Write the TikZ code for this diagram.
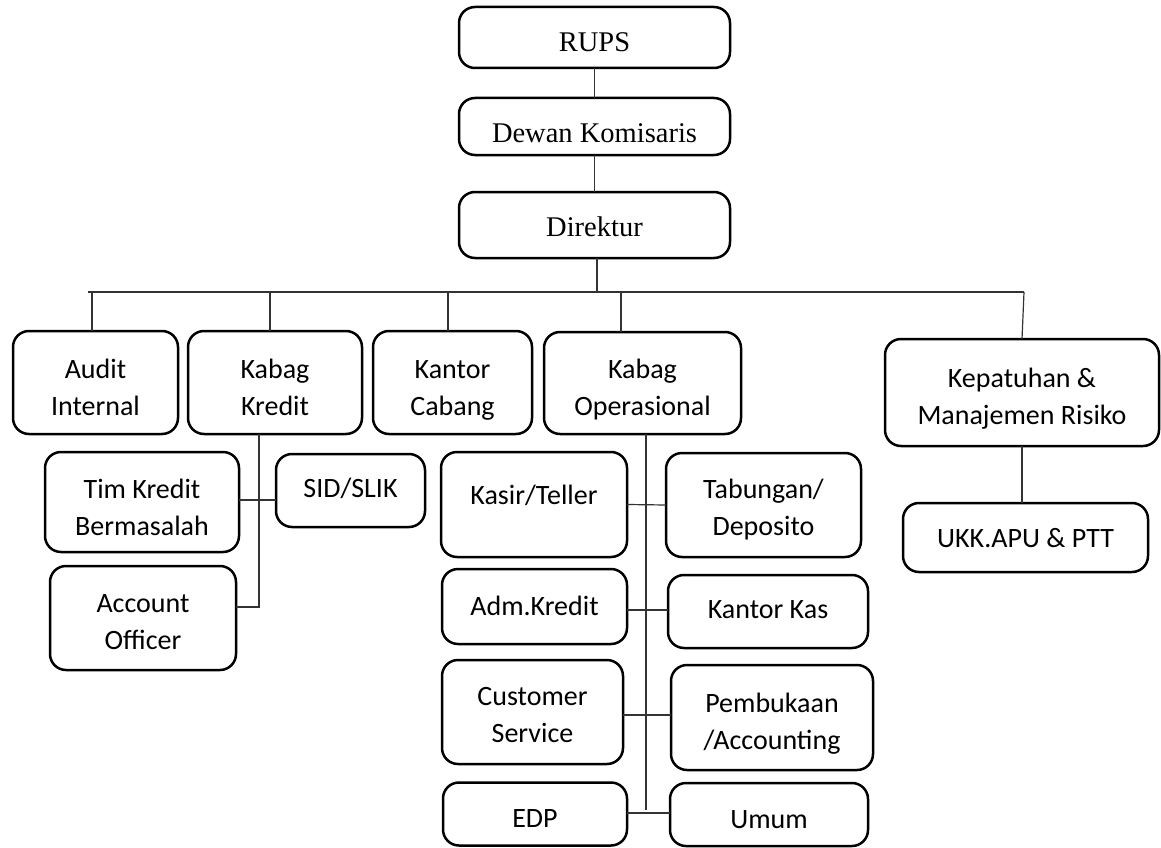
\documentclass[tikz,border=0pt]{standalone}
\usepackage{fontspec}
\setmainfont{Carlito}
\newfontfamily\serifface{Liberation Serif}
\begin{document}
\begin{tikzpicture}[x=1pt,y=-1pt,
  box/.style={draw=black, line width=2.5pt, rounded corners=16pt, inner sep=0pt, outer sep=0pt, fill=white},
  lbl/.style={align=center, inner sep=0pt, font=\fontsize{28}{37}\selectfont},
  slbl/.style={align=center, inner sep=0pt, font=\serifface\fontsize{28.5}{34}\selectfont},
  conn/.style={draw=black!80, line width=1.2pt}]
\useasboundingbox (0,0) rectangle (1161,848);

% top chain
\node[box, minimum width=271pt, minimum height=61pt, label={[slbl,yshift=-5pt]center:RUPS}] (rups) at (594.5,37.5) {};
\node[box, minimum width=271pt, minimum height=57pt, label={[slbl,yshift=-6.5pt]center:Dewan Komisaris}] (dewan) at (594.5,126.5) {};
\node[box, minimum width=271pt, minimum height=66pt, label={[slbl,yshift=-2pt]center:Direktur}] (direk) at (594.5,225) {};

% second level
\node[box, minimum width=165pt, minimum height=103pt, label={[lbl,yshift=-4.5pt]center:{Audit\\Internal}}] (audit) at (95.5,382.5) {};
\node[box, minimum width=174pt, minimum height=103pt, label={[lbl,yshift=-4.5pt]center:{Kabag\\Kredit}}] (kredit) at (275,382.5) {};
\node[box, minimum width=159pt, minimum height=103pt, label={[lbl,yshift=-7.5pt]center:{Kantor\\Cabang}}] (cabang) at (452.5,382.5) {};
\node[box, minimum width=197pt, minimum height=102pt, label={[lbl,yshift=-7pt]center:{Kabag\\Operasional}}] (oper) at (642.5,383) {};
\node[box, minimum width=274pt, minimum height=107pt, label={[lbl,yshift=-6.5pt]center:{Kepatuhan \&\\Manajemen Risiko}}] (kepat) at (1022,392.5) {};

% kredit subtree
\node[box, minimum width=194pt, minimum height=100pt, label={[lbl,yshift=-5pt]center:{Tim Kredit\\Bermasalah}}] (tim) at (142,502) {};
\node[box, minimum width=149pt, minimum height=73pt, label={[lbl,yshift=2.5pt]center:SID/SLIK}] (sid) at (350.5,490.5) {};
\node[box, minimum width=186pt, minimum height=104pt, label={[lbl,yshift=-4pt]center:{Account\\Officer}}] (ao) at (143,618) {};

% operasional subtree
\node[box, minimum width=186pt, minimum height=105pt, label={[lbl,yshift=9.5pt]center:Kasir/Teller}] (kasir) at (534,504.5) {};
\node[box, minimum width=195pt, minimum height=104pt, label={[lbl,yshift=-5pt]center:{Tabungan/\\Deposito}}] (tab) at (763.5,505) {};
\node[box, minimum width=185pt, minimum height=75pt, label={[lbl,yshift=0.5pt]center:Adm.Kredit}] (adm) at (534.5,606.5) {};
\node[box, minimum width=200pt, minimum height=73pt, label={[lbl,yshift=1.5pt]center:Kantor Kas}] (kas) at (768,611.5) {};
\node[box, minimum width=181pt, minimum height=104pt, label={[lbl,yshift=-3pt]center:{Customer\\Service}}] (cs) at (532.5,712) {};
\node[box, minimum width=202pt, minimum height=105pt, label={[lbl,yshift=-6pt]center:{Pembukaan\\/Accounting}}] (pemb) at (772,717.5) {};
\node[box, minimum width=184pt, minimum height=63pt, label={[lbl,yshift=-5pt]center:EDP}] (edp) at (535,814) {};
\node[box, minimum width=198pt, minimum height=63pt, label={[lbl,yshift=-5pt]center:Umum}] (umum) at (769,814.5) {};

% kepatuhan subtree
\node[box, minimum width=245pt, minimum height=69pt, label={[lbl,yshift=-1pt]center:UKK.APU \& PTT}] (ukk) at (1025.5,537.5) {};

% bus
\coordinate (busL) at (88,292);
\coordinate (busR) at (1024,292);

% connectors
\draw[conn] (rups.south) -- (dewan.north);
\draw[conn] (dewan.south) -- (direk.north);
\draw[conn] ([xshift=2.5pt]direk.south) -- ([xshift=2.5pt]direk.south |- busL);
\draw[conn] (busL) -- (busR);
\draw[conn] ([xshift=-3.5pt]audit.north |- busL) -- ([xshift=-3.5pt]audit.north);
\draw[conn] ([xshift=-5pt]kredit.north |- busL) -- ([xshift=-5pt]kredit.north);
\draw[conn] ([xshift=-4.5pt]cabang.north |- busL) -- ([xshift=-4.5pt]cabang.north);
\draw[conn] ([xshift=-21.5pt]oper.north |- busL) -- ([xshift=-21.5pt]oper.north);
\draw[conn] (busR) -- (kepat.north);

% kredit connectors
\coordinate (kv) at ([xshift=-16pt]kredit.south);
\coordinate (aoc) at ([yshift=11pt]ao.east);
\draw[conn] (kv) -- (kv |- aoc) -- (aoc);
\draw[conn] ([yshift=2pt]tim.east) -- ([yshift=2pt]tim.east -| sid.west);

% operasional connectors
\coordinate (ov) at ([xshift=3.5pt]oper.south);
\draw[conn] (ov) -- ([yshift=4pt]ov |- edp.east);
\draw[conn] (kasir.east) -- (tab.west);
\draw[conn] ([yshift=-3.5pt]adm.east) -- ([yshift=-3.5pt]adm.east -| kas.west);
\draw[conn] ([yshift=-3pt]cs.east) -- ([yshift=-3pt]cs.east -| pemb.west);
\draw[conn] ([yshift=1pt]edp.east) -- ([yshift=1pt]edp.east -| umum.west);

% kepatuhan connector
\draw[conn] (kepat.south) -- (kepat.south |- ukk.north);
\end{tikzpicture}
\end{document}
